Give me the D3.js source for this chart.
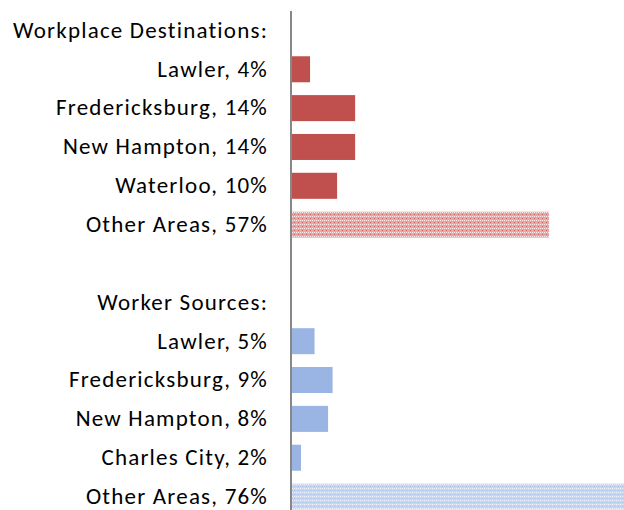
<!DOCTYPE html>
<html>
<head>
<meta charset="utf-8">
<script src="https://cdn.jsdelivr.net/npm/d3@7"></script>
<style>
  html, body { margin: 0; padding: 0; background: #fff; }
  svg { display: block; }
</style>
</head>
<body>
<svg id="chart" width="624" height="510"></svg>
<script>
// ---- data ----
const destHeader = "Workplace Destinations:";
const destCategories = ["Lawler", "Fredericksburg", "New Hampton", "Waterloo", "Other Areas"];
const destValues = [4, 14, 14, 10, 57];

const srcHeader = "Worker Sources:";
const srcCategories = ["Lawler", "Fredericksburg", "New Hampton", "Charles City", "Other Areas"];
const srcValues = [5, 9, 8, 2, 76];

// ---- build rows ----
const rows = [];
rows.push({ key: "h1", label: destHeader, value: null });
destCategories.forEach((c, i) => rows.push({ key: "d" + i, label: `${c}, ${destValues[i]}%`, value: destValues[i], group: "dest", other: c === "Other Areas" }));
rows.push({ key: "blank", label: "", value: null });
rows.push({ key: "h2", label: srcHeader, value: null });
srcCategories.forEach((c, i) => rows.push({ key: "s" + i, label: `${c}, ${srcValues[i]}%`, value: srcValues[i], group: "src", other: c === "Other Areas" }));

const svg = d3.select("#chart");

// patterns
const defs = svg.append("defs");
function makePattern(id, bg, light, dark) {
  const p = defs.append("pattern").attr("id", id).attr("patternUnits", "userSpaceOnUse")
    .attr("width", 4).attr("height", 4);
  p.append("rect").attr("width", 4).attr("height", 4).attr("fill", bg);
  p.append("rect").attr("x", 0).attr("y", 0).attr("width", 1).attr("height", 1).attr("fill", light);
  p.append("rect").attr("x", 2).attr("y", 2).attr("width", 1).attr("height", 1).attr("fill", dark);
  p.append("rect").attr("x", 2).attr("y", 0).attr("width", 1).attr("height", 1).attr("fill", light);
}
makePattern("redPat", "#E8A6A4", "#FBEAEA", "#C9625F");
makePattern("bluePat", "#C6D6F2", "#EEF3FC", "#A3BCE8");

const y = d3.scaleBand().domain(rows.map(r => r.key)).range([11, 516]).paddingInner(0.33).paddingOuter(0.165);
const x = d3.scaleLinear().domain([0, 100]).range([292, 743]);

const colors = { dest: "#C0504D", src: "#9AB4E3" };

svg.append("g").selectAll("rect").data(rows.filter(r => r.value !== null)).join("rect")
  .attr("x", x(0))
  .attr("y", d => y(d.key))
  .attr("width", d => x(d.value) - x(0))
  .attr("height", y.bandwidth())
  .attr("fill", d => d.other ? (d.group === "dest" ? "url(#redPat)" : "url(#bluePat)") : colors[d.group]);

// axis line + category labels
const yAxis = d3.axisLeft(y).tickSize(0).tickFormat(k => rows.find(r => r.key === k).label);
const gAxis = svg.append("g").attr("transform", "translate(291,0)").call(yAxis);
gAxis.select(".domain").attr("stroke", "#878787").attr("stroke-width", 2).attr("d", "M0,11V516");
gAxis.selectAll(".tick text").attr("x", -23).attr("font-size", 23).attr("fill", "#000")
  .style("font-family", "Carlito, Lato, sans-serif").style("letter-spacing", "1.2px");
</script>
</body>
</html>
